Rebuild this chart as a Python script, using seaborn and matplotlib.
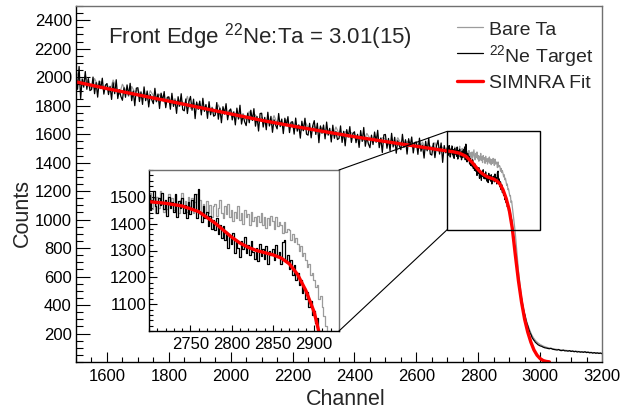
import numpy as np
import matplotlib
matplotlib.use("Agg")
import matplotlib.pyplot as plt
import seaborn as sns
from matplotlib.patches import Rectangle, ConnectionPatch
from matplotlib.lines import Line2D
from matplotlib.ticker import MultipleLocator

sns.set_style("ticks")
plt.rcParams['font.family'] = ['Liberation Sans', 'DejaVu Sans']
plt.rcParams['mathtext.fontset'] = 'custom'
plt.rcParams['mathtext.rm'] = 'Liberation Sans'
plt.rcParams['mathtext.it'] = 'Liberation Sans:italic'
plt.rcParams['mathtext.bf'] = 'Liberation Sans:bold'

# ---------------- data ----------------
# 22Ne target spectrum
ne_ch = np.concatenate([np.arange(1500, 2700, 5), np.arange(2700, 3000, 2), np.arange(3000, 3201, 5)])
ne_counts_low = [
    2030, 1915, 2075, 1850, 1988, 1930, 2040, 1915, 1990, 1906,
    1913, 2001, 1884, 1962, 1860, 1973, 1920, 1993, 1881, 1944,
    1955, 1878, 1936, 1844, 1961, 1884, 1982, 1850, 1913, 1865,
    1838, 1926, 1859, 1946, 1874, 1957, 1835, 1903, 1800, 1923,
    1926, 1829, 1897, 1809, 1932, 1835, 1903, 1791, 1878, 1841,
    1814, 1922, 1830, 1882, 1780, 1888, 1836, 1899, 1786, 1859,
    1862, 1775, 1887, 1795, 1838, 1746, 1863, 1796, 1884, 1771,
    1764, 1847, 1745, 1828, 1865, 1768, 1846, 1709, 1826, 1774,
    1832, 1735, 1852, 1760, 1808, 1711, 1828, 1736, 1784, 1726,
    1734, 1822, 1705, 1783, 1680, 1793, 1741, 1814, 1701, 1764,
    1777, 1700, 1757, 1665, 1783, 1706, 1803, 1671, 1734, 1687,
    1660, 1748, 1680, 1768, 1696, 1779, 1656, 1724, 1622, 1745,
    1747, 1650, 1718, 1631, 1754, 1657, 1725, 1613, 1701, 1664,
    1637, 1745, 1653, 1706, 1604, 1712, 1660, 1723, 1611, 1684,
    1687, 1600, 1713, 1621, 1664, 1572, 1691, 1624, 1712, 1600,
    1593, 1676, 1574, 1657, 1695, 1598, 1677, 1540, 1658, 1606,
    1664, 1567, 1685, 1593, 1641, 1545, 1663, 1571, 1619, 1562,
    1570, 1658, 1542, 1620, 1518, 1632, 1580, 1653, 1542, 1605,
    1617, 1540, 1599, 1507, 1625, 1549, 1647, 1515, 1578, 1532,
    1505, 1593, 1527, 1615, 1543, 1627, 1505, 1573, 1471, 1595,
    1598, 1501, 1570, 1483, 1606, 1510, 1578, 1466, 1554, 1518,
    1491, 1599, 1508, 1561, 1460, 1568, 1516, 1580, 1468, 1542,
    1545, 1458, 1572, 1480, 1523, 1432, 1550, 1483, 1572, 1460,
    1453, 1537, 1435, 1518, 1557, 1460, 1538, 1402, 1520, 1469,
]
ne_counts_edge = [
    1505, 1450, 1490, 1520, 1465, 1440, 1495, 1470, 1515, 1455,
    1490, 1430, 1500, 1460, 1480, 1445, 1510, 1425, 1485, 1460,
    1495, 1440, 1470, 1420, 1480, 1435, 1490, 1455, 1510, 1420,
    1530, 1440, 1405, 1465, 1420, 1445, 1390, 1430, 1380, 1415,
    1375, 1420, 1360, 1395, 1345, 1390, 1340, 1370, 1310, 1355,
    1325, 1365, 1290, 1340, 1310, 1275, 1335, 1305, 1350, 1290,
    1320, 1285, 1335, 1295, 1270, 1310, 1260, 1325, 1280, 1305,
    1270, 1315, 1250, 1300, 1285, 1305, 1265, 1320, 1275, 1295,
    1250, 1330, 1340, 1265, 1285, 1230, 1265, 1210, 1245, 1190,
    1215, 1170, 1190, 1140, 1160, 1120, 1145, 1090, 1110, 1060,
    1075, 1030, 1050, 990, 1000, 950, 905, 880, 830, 790,
    770, 735, 690, 650, 615, 595, 560, 525, 495, 465,
    445, 420, 390, 370, 350, 335, 320, 295, 280, 265,
    255, 240, 225, 215, 200, 195, 185, 172, 165, 158,
    152, 148, 140, 136, 132, 128, 124, 120, 118, 116,
]
ne_counts_tail = [
    113, 110, 104, 100, 98, 95, 93, 96, 90, 88,
    86, 84, 88, 81, 80, 83, 78, 79, 76, 80,
    74, 77, 72, 75, 70, 73, 69, 71, 68, 72,
    66, 69, 64, 67, 62, 66, 61, 64, 60, 63,
    58,
]

# Bare Ta spectrum
ta_ch = np.concatenate([np.arange(1500, 2700, 10), np.arange(2700, 3000, 2), np.arange(3000, 3201, 10)])
ta_counts_low = [
    2050, 1985, 1940, 2010, 1960, 1915, 1990, 1945, 1970, 1905,
    1955, 1900, 1980, 1925, 1880, 1950, 1910, 1865, 1935, 1895,
    1915, 1860, 1895, 1840, 1905, 1870, 1825, 1880, 1845, 1810,
    1860, 1815, 1850, 1795, 1840, 1805, 1865, 1780, 1820, 1800,
    1815, 1770, 1800, 1755, 1790, 1740, 1805, 1760, 1775, 1730,
    1770, 1725, 1755, 1710, 1745, 1700, 1760, 1715, 1735, 1690,
    1720, 1680, 1710, 1665, 1730, 1675, 1690, 1650, 1700, 1660,
    1680, 1640, 1665, 1625, 1690, 1650, 1630, 1660, 1615, 1645,
    1640, 1600, 1625, 1590, 1650, 1605, 1575, 1620, 1595, 1610,
    1600, 1565, 1590, 1555, 1605, 1570, 1545, 1585, 1550, 1575,
    1565, 1530, 1560, 1520, 1575, 1535, 1510, 1550, 1525, 1540,
    1530, 1500, 1545, 1490, 1525, 1505, 1540, 1480, 1515, 1495,
]
ta_counts_edge = [
    1470, 1515, 1455, 1495, 1440, 1500, 1460, 1520, 1475, 1445,
    1490, 1455, 1510, 1465, 1495, 1450, 1505, 1470, 1440, 1490,
    1515, 1460, 1485, 1445, 1500, 1465, 1495, 1440, 1480, 1510,
    1455, 1490, 1445, 1475, 1430, 1485, 1440, 1470, 1425, 1465,
    1475, 1430, 1460, 1490, 1440, 1420, 1465, 1435, 1475, 1425,
    1450, 1410, 1445, 1420, 1465, 1415, 1440, 1400, 1450, 1425,
    1435, 1395, 1445, 1410, 1425, 1390, 1430, 1405, 1440, 1395,
    1425, 1385, 1420, 1395, 1430, 1410, 1380, 1425, 1390, 1405,
    1395, 1365, 1405, 1370, 1380, 1375, 1340, 1360, 1330, 1345,
    1325, 1300, 1315, 1280, 1290, 1265, 1240, 1250, 1210, 1215,
    1190, 1165, 1170, 1120, 1130, 1090, 1055, 1020, 980, 940,
    900, 850, 800, 745, 690, 640, 600, 560, 525, 490,
    455, 430, 405, 380, 360, 340, 325, 305, 290, 275,
    262, 250, 238, 225, 215, 205, 195, 185, 178, 170,
    165, 160, 153, 148, 144, 140, 136, 132, 129, 127,
]
ta_counts_tail = [123, 112, 104, 98, 94, 90, 87, 85, 83, 80,
                  78, 76, 75, 73, 71, 70, 68, 66, 65, 63, 61]

# SIMNRA fit
fit_ch = [1500, 1600, 1700, 1800, 1900, 2000, 2100, 2200, 2300, 2400, 2500, 2600, 2650,
          2700, 2720, 2740, 2760, 2780, 2800, 2810, 2820, 2830, 2840, 2850, 2860, 2870,
          2880, 2890, 2900, 2910, 2920, 2930, 2940, 2950, 2960, 2970, 2980, 2990, 3000,
          3010, 3020, 3030]
fit_counts = [1967, 1920, 1876, 1832, 1787, 1742, 1697, 1657, 1619, 1582, 1548, 1515, 1498,
              1482, 1476, 1466, 1445, 1402, 1350, 1328, 1312, 1300, 1292, 1284, 1272, 1250,
              1210, 1150, 1070, 940, 750, 570, 420, 300, 210, 140, 85, 48, 24,
              10, 4, 1]

ne_counts = np.array(ne_counts_low + ne_counts_edge + ne_counts_tail)
ta_counts = np.array(ta_counts_low + ta_counts_edge + ta_counts_tail)

series_labels = ["Bare Ta", "$^{22}$Ne Target", "SIMNRA Fit"]
title_text = "Front Edge $^{22}$Ne:Ta = 3.01(15)"

GRAY = "#9c9c9c"
RED = "#ff0000"

W, H = 620, 409
fig = plt.figure(figsize=(W / 100, H / 100), dpi=100)
fig.patch.set_facecolor("white")


def px_rect(l, t, r, b):
    return [l / W, (H - b) / H, (r - l) / W, (b - t) / H]


def draw_series(axis, style):
    sns.lineplot(x=ta_ch, y=ta_counts, ax=axis, color=GRAY, lw=0.9,
                 drawstyle=style, estimator=None, legend=False)
    sns.lineplot(x=ne_ch, y=ne_counts, ax=axis, color="black", lw=0.9,
                 drawstyle=style, estimator=None, legend=False)
    sns.lineplot(x=fit_ch, y=fit_counts, ax=axis, color=RED, lw=2.4,
                 estimator=None, legend=False)


def style_frame(axis):
    for s in ["left", "bottom"]:
        axis.spines[s].set_color("black")
        axis.spines[s].set_linewidth(1.0)
    for s in ["top", "right"]:
        axis.spines[s].set_color("#707070")
        axis.spines[s].set_linewidth(1.0)
        axis.spines[s].set_visible(True)
    axis.set_facecolor("white")
    axis.grid(False)
    axis.set_xlabel("")
    axis.set_ylabel("")


# ---------------- main axes ----------------
ax = fig.add_axes(px_rect(76, 6, 602, 362))
draw_series(ax, "default")
ax.set_xlim(1500, 3200)
ax.set_ylim(0, 2500)
ax.xaxis.set_minor_locator(MultipleLocator(50))
ax.yaxis.set_minor_locator(MultipleLocator(50))
ax.set_xticks([v for v in range(1600, 3201, 200)])
ax.set_yticks([v for v in range(200, 2401, 200)])
style_frame(ax)
ax.tick_params(axis="both", which="both", direction="in", top=False, right=False,
               labelsize=12, width=0.8, colors="black")
ax.tick_params(axis="y", which="major", length=10, pad=3)
ax.tick_params(axis="y", which="minor", length=5)
ax.tick_params(axis="x", which="major", length=7, pad=5)
ax.tick_params(axis="x", which="minor", length=3.5)

# zoom box
ax.add_patch(Rectangle((2700, 930), 300, 690, fill=False, edgecolor="black", lw=1.0, zorder=5))

# ---------------- inset ----------------
axin = fig.add_axes(px_rect(149, 170, 339, 331))
axin.set_zorder(3)
draw_series(axin, "steps-mid")
axin.set_xlim(2700, 2930)
axin.set_ylim(1000, 1600)
axin.set_xticks([2750, 2800, 2850, 2900])
axin.set_yticks([1100, 1200, 1300, 1400, 1500])
axin.xaxis.set_minor_locator(MultipleLocator(10))
axin.yaxis.set_minor_locator(MultipleLocator(20))
style_frame(axin)
axin.tick_params(axis="both", which="both", direction="in", top=False, right=False,
                 labelsize=12, width=0.8, colors="black")
axin.tick_params(axis="y", which="major", length=5.5, pad=1.5)
axin.tick_params(axis="y", which="minor", length=3)
axin.tick_params(axis="x", which="major", length=4.5, pad=4)
axin.tick_params(axis="x", which="minor", length=2.5)

for a_xy, b_xy in [((1, 1), (2700, 1620)), ((1, 0), (2700, 930))]:
    con = ConnectionPatch(xyA=a_xy, coordsA=axin.transAxes, xyB=b_xy, coordsB=ax.transData,
                          color="black", lw=0.8, zorder=6)
    fig.add_artist(con)

# ---------------- texts ----------------
fig.text(22 / W, (H - 213) / H, "Counts", rotation=90, ha="center", va="center", fontsize=15.5)
fig.text(346 / W, (H - 405) / H, "Channel", ha="center", va="baseline", fontsize=15.5)
fig.text(108 / W, (H - 43) / H, title_text, ha="left", va="baseline", fontsize=16)

# legend
leg_rows = [(series_labels[0], GRAY, 0.9, 27.3, 35),
            (series_labels[1], "black", 0.9, 53.3, 61.7),
            (series_labels[2], RED, 2.4, 80.7, 88)]
for lab, col, lw, ly, by in leg_rows:
    fig.add_artist(Line2D([457 / W, 483 / W], [(H - ly) / H] * 2, color=col, lw=lw))
    fig.text(489 / W, (H - by) / H, lab, ha="left", va="baseline", fontsize=14)

fig.savefig("out.png", dpi=100, facecolor="white")
